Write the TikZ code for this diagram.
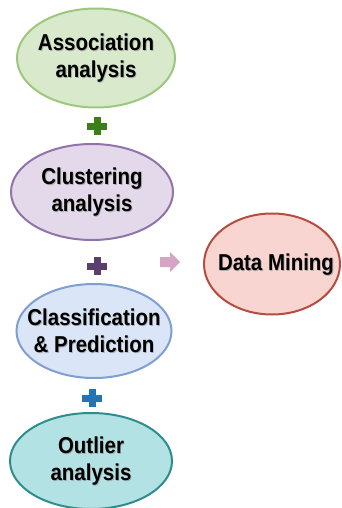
\documentclass[tikz,border=0pt]{standalone}
\usepackage{fontspec}
\setmainfont{Liberation Sans}
\newfontfamily\labelfont[FakeStretch=0.89]{Liberation Sans}
\usetikzlibrary{shapes.geometric,calc}
\definecolor{assocfill}{HTML}{D8E9CC}
\definecolor{assocdraw}{HTML}{9DC67E}
\definecolor{clustfill}{HTML}{E4D9EA}
\definecolor{clustdraw}{HTML}{9073A8}
\definecolor{classfill}{HTML}{DAE6F7}
\definecolor{classdraw}{HTML}{7E9FCF}
\definecolor{outfill}{HTML}{B2E2E4}
\definecolor{outdraw}{HTML}{2E8C8C}
\definecolor{dmfill}{HTML}{F8D5D1}
\definecolor{dmdraw}{HTML}{B64C3F}
\definecolor{plusgreen}{HTML}{3D7F17}
\definecolor{pluspurple}{HTML}{5A3F6E}
\definecolor{plusblue}{HTML}{2474B5}
\definecolor{arrowpink}{HTML}{D7A5C4}
\tikzset{
  oval/.style={ellipse, line width=2pt, inner sep=0pt},
  txt/.style={align=center, inner sep=0pt,
    font=\labelfont\fontsize{23}{27}\selectfont\bfseries},
  shadowtxt/.style={txt, text=black!45, opacity=0.6},
}
\newcommand{\plussign}[2]{%
  \fill[#2] ($#1+(-10,-3.5)$) rectangle ($#1+(10,3.5)$);
  \fill[#2] ($#1+(-3.5,-9)$) rectangle ($#1+(3.5,9)$);}
\newcommand{\ovallabel}[3]{%
  \node[shadowtxt] (#1s) at ($#2+(0.9,0.9)$) {#3};
  \node[txt] (#1) at #2 {#3};}
\begin{document}
\begin{tikzpicture}[x=1pt,y=-1pt]
\useasboundingbox (0,0) rectangle (341,508);
\node[oval, fill=assocfill, draw=assocdraw, minimum width=158pt, minimum height=99pt] (assoc) at (96,58) {};
\ovallabel{assoct}{(assoc)}{Association\\analysis}
\node[oval, fill=clustfill, draw=clustdraw, minimum width=162pt, minimum height=96pt] (clust) at (92,192) {};
\ovallabel{clustt}{(clust)}{Clustering\\analysis}
\node[oval, fill=classfill, draw=classdraw, minimum width=155pt, minimum height=94pt] (class) at (94,331) {};
\ovallabel{classt}{(class)}{Classification\\\& Prediction}
\node[oval, fill=outfill, draw=outdraw, minimum width=162pt, minimum height=96pt] (outl) at (91,461) {};
\ovallabel{outlt}{(outl)}{Outlier\\analysis}
\node[oval, fill=dmfill, draw=dmdraw, minimum width=136pt, minimum height=101pt] (dm) at (272,264) {};
\coordinate (dmc) at ($(dm)+(4,1)$);
\ovallabel{dmt}{(dmc)}{Data Mining}
\coordinate (p1) at (97,126);
\coordinate (p2) at (97,266);
\coordinate (p3) at (92,398);
\plussign{(p1)}{plusgreen}
\plussign{(p2)}{pluspurple}
\plussign{(p3)}{plusblue}
\coordinate (arr) at (170,262);
\fill[arrowpink] ($(arr)+(-10,-5)$) -- ($(arr)+(0,-5)$) -- ($(arr)+(0,-10)$) -- ($(arr)+(10,0)$) -- ($(arr)+(0,10)$) -- ($(arr)+(0,5)$) -- ($(arr)+(-10,5)$) -- cycle;
\end{tikzpicture}
\end{document}
